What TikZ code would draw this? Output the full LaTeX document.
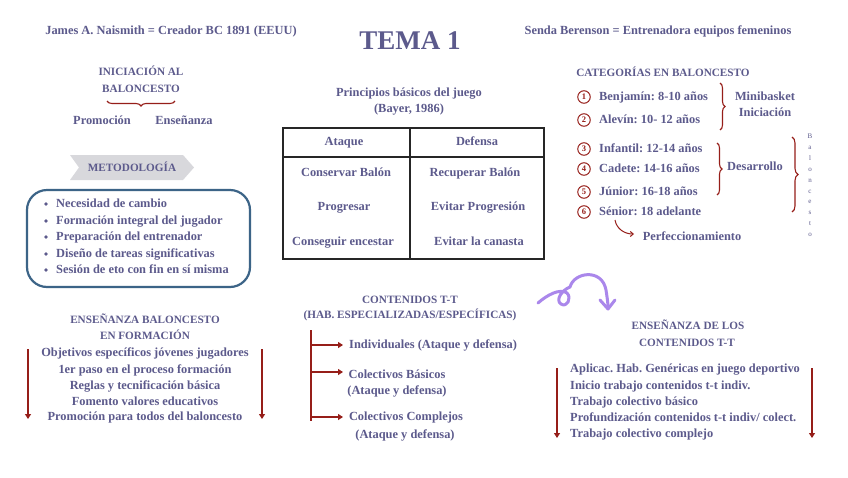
\documentclass[tikz,border=0pt]{standalone}
\usepackage{fontspec}
\setmainfont{Liberation Serif}
\usetikzlibrary{decorations.pathreplacing,arrows.meta}
\definecolor{txt}{RGB}{92,90,140}
\definecolor{dred}{RGB}{150,30,25}
\definecolor{boxblue}{RGB}{60,100,135}
\definecolor{lav}{RGB}{170,135,235}
\definecolor{chev}{RGB}{216,216,220}
\frenchspacing
\begin{document}
\frenchspacing
\begin{tikzpicture}[x=1pt,y=-1pt,
  every node/.style={text=txt, inner sep=0pt},
  body/.style={font=\frenchspacing\bfseries\fontsize{12.4}{14}\selectfont, text height=9pt, text depth=2.5pt},
  head/.style={font=\bfseries\fontsize{11.2}{13}\selectfont, text height=8pt, text depth=0pt},
  brc/.style={draw=dred, line width=1.1pt, decorate, decoration={brace,amplitude=5pt}},
  darr/.style={draw=dred, line width=1.1pt, -{Triangle[length=5pt,width=6pt]}},
  num/.style={circle, draw=dred, line width=1pt, minimum size=12.5pt, text=dred, font=\bfseries\fontsize{8.5}{8.5}\selectfont},
  tiny/.style={font=\fontsize{7}{7}\selectfont, text height=5pt, text depth=0pt}]
\useasboundingbox (0,0) rectangle (848,477);
\fill[white] (0,0) rectangle (848,477);

% top line
\node[body] (naismith) at (171,31) {James A. Naismith = Creador BC 1891 (EEUU)};
\node[font=\bfseries\fontsize{27}{30}\selectfont] (tema) at (410,41) {TEMA 1};
\node[body] (senda) at (658,31) {Senda Berenson = Entrenadora equipos femeninos};

% iniciacion
\node[head] (ini1) at (141,71) {INICIACIÓN AL};
\node[head] (ini2) at (141,88) {BALONCESTO};
\draw[brc] (175,101) -- (107,101);
\node[body] (promo) at (102,121) {Promoción};
\node[body] (ense) at (184,121) {Enseñanza};

% principios table
\node[body] (princ1) at (409,93) {Principios básicos del juego};
\node[body] (princ2) at (409,109) {(Bayer, 1986)};
\draw[black!85, line width=1.3pt] (283,128) rectangle (544,259);
\draw[black!85, line width=1.3pt] (410,128) -- (410,259);
\draw[black!85, line width=1.1pt] (283,157) -- (544,157);
\node[body] (ataque) at (344,142) {Ataque};
\node[body] (defensa) at (477,142) {Defensa};
\node[body] (a1) at (346,173) {Conservar Balón};
\node[body] (a2) at (344,207) {Progresar};
\node[body] (a3) at (343,242) {Conseguir encestar};
\node[body] (d1) at (475,173) {Recuperar Balón};
\node[body] (d2) at (478,207) {Evitar Progresión};
\node[body] (d3) at (479,242) {Evitar la canasta};

% metodologia
\fill[chev] (70,155) -- (183,155) -- (194,167.5) -- (183,180) -- (70,180) -- (79,167.5) -- cycle;
\node[head] (meto) at (132,167.5) {METODOLOGÍA};
\draw[boxblue, line width=2.2pt, rounded corners=20pt] (27,190) rectangle (250,287);
\foreach \i/\t/\yy in {1/{Necesidad de cambio}/204, 2/{Formación integral del jugador}/221, 3/{Preparación del entrenador}/237, 4/{Diseño de tareas significativas}/254, 5/{Sesión de eto con fin en sí misma}/270}{
  \fill[txt] (46,\yy) circle (1.8pt);
  \node[body, anchor=west] (m\i) at (56,\yy) {\t};
}

% categorias
\node[head] (cat) at (663,72) {CATEGORÍAS EN BALONCESTO};
\foreach \i/\t/\yy in {1/{Benjamín: 8-10 años}/97, 2/{Alevín: 10- 12 años}/120, 3/{Infantil: 12-14 años}/149, 4/{Cadete: 14-16 años}/169, 5/{Júnior: 16-18 años}/192, 6/{Sénior: 18 adelante}/212}{
  \node[num] (n\i) at (584,\yy) {\i};
  \node[body, anchor=west] (c\i) at (599,\yy) {\t};
}
\draw[brc] (720,83) -- (720,130);
\node[body] (mini1) at (765,97) {Minibasket};
\node[body] (mini2) at (765,113) {Iniciación};
\draw[brc] (717,143) -- (717,195);
\node[body] (desa) at (755,167) {Desarrollo};
\draw[brc, decoration={brace,amplitude=6pt}] (792,137) -- (792,212);
\foreach \l [count=\k] in {B,a,l,o,n,c,e,s,t,o}{
  \node[tiny] (v\k) at (810,{136+(\k-1)*10.9}) {\l};
}
\coordinate (sa) at (615,220);
\node[body] (perf) at (692,237) {Perfeccionamiento};
\coordinate (sb) at (634,234);
\draw[draw=dred, line width=1pt, -{Straight Barb[length=3pt,width=5pt]}] (sa) to[out=-80,in=180] (sb);

% ensenanza baloncesto en formacion
\node[head] (eb1) at (145,319) {ENSEÑANZA BALONCESTO};
\node[head] (eb2) at (145,335) {EN FORMACIÓN};
\foreach \i/\t/\yy in {1/{Objetivos específicos jóvenes jugadores}/353, 2/{1er paso en el proceso formación}/370, 3/{Reglas y tecnificación básica}/386, 4/{Fomento valores educativos}/402, 5/{Promoción para todos del baloncesto}/417}{
  \node[body] (e\i) at (145,\yy) {\t};
}
\coordinate (la) at (28,349); \coordinate (lb) at (28,419);
\coordinate (ra) at (262,349); \coordinate (rb) at (262,419);
\draw[darr] (la) -- (lb);
\draw[darr] (ra) -- (rb);

% contenidos
\node[head] (ct1) at (410,299) {CONTENIDOS T-T};
\node[head] (ct2) at (410,314) {(HAB. ESPECIALIZADAS/ESPECÍFICAS)};
\coordinate (vt) at (311,330); \coordinate (vb) at (311,421);
\draw[dred, line width=1.1pt] (vt) -- (vb);
\node[body, anchor=west] (ind) at (349,345) {Individuales (Ataque y defensa)};
\node[body] (cb1) at (397,375) {Colectivos Básicos};
\node[body] (cb2) at (397,391) {(Ataque y defensa)};
\node[body] (cc1) at (406,417) {Colectivos Complejos};
\node[body] (cc2) at (405,435) {(Ataque y defensa)};
\coordinate (h1) at (311,345); \coordinate (h1e) at (343,345);
\coordinate (h2) at (311,372); \coordinate (h2e) at (343,372);
\coordinate (h3) at (311,417); \coordinate (h3e) at (343,417);
\draw[darr] (h1) -- (h1e);
\draw[darr] (h2) -- (h2e);
\draw[darr] (h3) -- (h3e);

% swirl
\draw[lav, line width=3pt, line cap=round, line join=round]
  (538,303) .. controls (547,295) and (560,288) .. (567,293)
  .. controls (572,298) and (567,308) .. (561,304)
  .. controls (555,300) and (562,290) .. (570,287)
  .. controls (574,272) and (602,268) .. (606,290)
  .. controls (607,297) and (608,302) .. (608,308);
\draw[lav, line width=3pt, line cap=round, line join=round] (600,300) -- (608,309) -- (615,300);

% ensenanza contenidos
\node[head] (ec1) at (688,325) {ENSEÑANZA DE LOS};
\node[head] (ec2) at (687,342) {CONTENIDOS T-T};
\foreach \i/\t/\yy in {1/{Aplicac. Hab. Genéricas en juego deportivo}/369, 2/{Inicio trabajo contenidos t-t indiv.}/386, 3/{Trabajo colectivo básico}/402, 4/{Profundización contenidos t-t indiv/ colect.}/418, 5/{Trabajo colectivo complejo}/434}{
  \node[body, anchor=west] (f\i) at (570,\yy) {\t};
}
\coordinate (pla) at (557,368); \coordinate (plb) at (557,438);
\coordinate (pra) at (812,368); \coordinate (prb) at (812,438);
\draw[darr] (pla) -- (plb);
\draw[darr] (pra) -- (prb);
\end{tikzpicture}
\end{document}
